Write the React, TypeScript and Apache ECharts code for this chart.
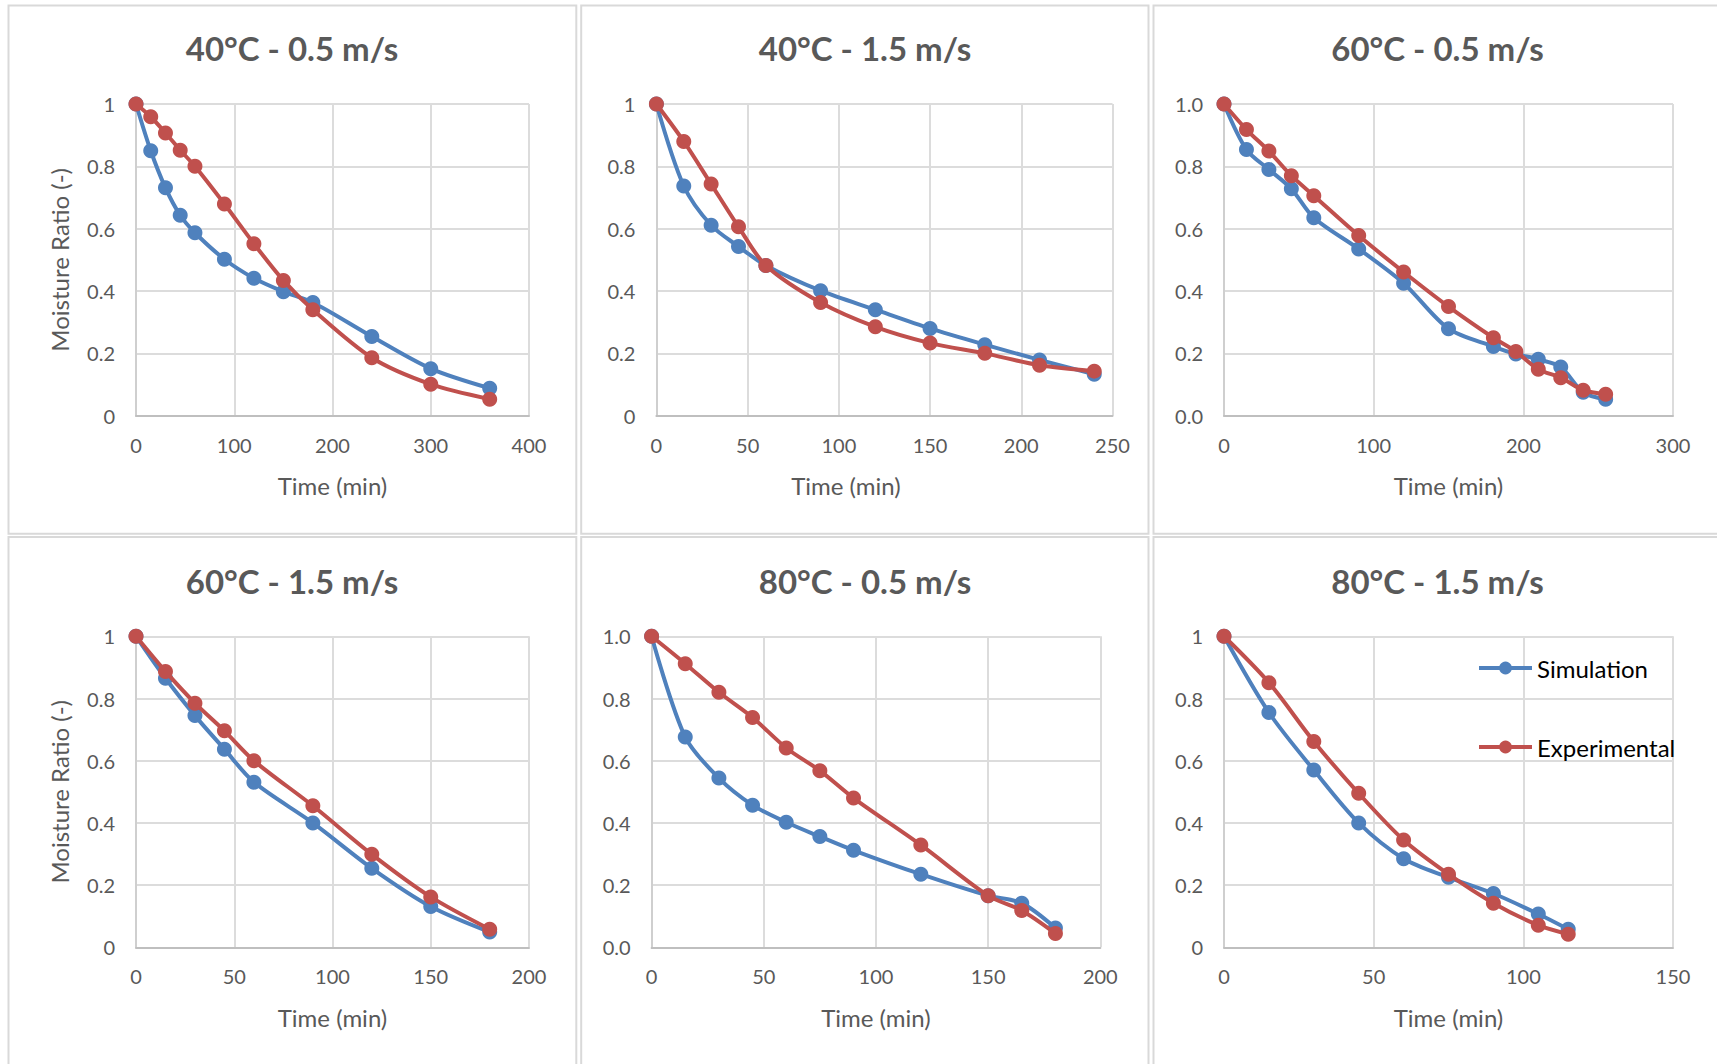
import React, { useEffect, useRef } from "react";
import * as echarts from "echarts";

// ---------- data ----------
const panelTitles = ["40°C - 0.5 m/s", "40°C - 1.5 m/s", "60°C - 0.5 m/s", "60°C - 1.5 m/s", "80°C - 0.5 m/s", "80°C - 1.5 m/s"];
const seriesNames = ["Simulation", "Experimental"];
const xAxisMax = [400, 250, 300, 200, 200, 150];
const xAxisInterval = [100, 50, 100, 50, 50, 50];
const yOneDecimal = [false, false, true, false, true, false];
const xAxisTitle = "Time (min)";
const yAxisTitle = "Moisture Ratio (-)";

// 40°C - 0.5 m/s
const time40_05 = [0, 15, 30, 45, 60, 90, 120, 150, 180, 240, 300, 360];
const sim40_05 = [1, 0.85, 0.731, 0.643, 0.587, 0.502, 0.441, 0.398, 0.363, 0.254, 0.151, 0.088];
const exp40_05 = [1, 0.959, 0.907, 0.852, 0.8, 0.679, 0.552, 0.434, 0.34, 0.186, 0.101, 0.053];
// 40°C - 1.5 m/s
const time40_15 = [0, 15, 30, 45, 60, 90, 120, 150, 180, 210, 240];
const sim40_15 = [1, 0.737, 0.611, 0.543, 0.482, 0.401, 0.34, 0.28, 0.228, 0.179, 0.133];
const exp40_15 = [1, 0.88, 0.743, 0.606, 0.482, 0.363, 0.285, 0.233, 0.2, 0.162, 0.143];
// 60°C - 0.5 m/s
const time60_05 = [0, 15, 30, 45, 60, 90, 120, 150, 180, 195, 210, 225, 240, 255];
const sim60_05 = [1, 0.854, 0.79, 0.728, 0.635, 0.535, 0.425, 0.279, 0.222, 0.198, 0.181, 0.156, 0.075, 0.053];
const exp60_05 = [1, 0.918, 0.849, 0.77, 0.706, 0.578, 0.461, 0.35, 0.25, 0.206, 0.149, 0.122, 0.082, 0.069];
// 60°C - 1.5 m/s
const time60_15 = [0, 15, 30, 45, 60, 90, 120, 150, 180];
const sim60_15 = [1, 0.865, 0.745, 0.637, 0.531, 0.4, 0.254, 0.131, 0.049];
const exp60_15 = [1, 0.887, 0.785, 0.696, 0.6, 0.455, 0.299, 0.162, 0.058];
// 80°C - 0.5 m/s
const time80_05 = [0, 15, 30, 45, 60, 75, 90, 120, 150, 165, 180];
const sim80_05 = [1, 0.676, 0.544, 0.457, 0.402, 0.356, 0.312, 0.235, 0.166, 0.142, 0.062];
const exp80_05 = [1, 0.912, 0.82, 0.739, 0.641, 0.568, 0.48, 0.329, 0.166, 0.118, 0.044];
// 80°C - 1.5 m/s
const time80_15 = [0, 15, 30, 45, 60, 75, 90, 105, 115];
const sim80_15 = [1, 0.755, 0.57, 0.4, 0.285, 0.225, 0.173, 0.107, 0.058];
const exp80_15 = [1, 0.851, 0.662, 0.495, 0.345, 0.235, 0.142, 0.071, 0.042];

const panelTimes = [time40_05, time40_15, time60_05, time60_15, time80_05, time80_15];
const panelSim = [sim40_05, sim40_15, sim60_05, sim60_15, sim80_05, sim80_15];
const panelExp = [exp40_05, exp40_15, exp60_05, exp60_15, exp80_05, exp80_15];

// ---------- layout ----------
const FONT = "Lato, 'Open Sans', sans-serif";
const TEXT_GRAY = "#595959";
const BLUE = "#4f81bd";
const RED = "#c0504d";

const grids = [
  { left: 136, top: 104, width: 393, height: 311.7 },
  { left: 656.4, top: 104, width: 456.1, height: 311.7 },
  { left: 1224, top: 104, width: 449, height: 311.7 },
  { left: 136, top: 636.3, width: 393, height: 311 },
  { left: 651.6, top: 636.3, width: 448.7, height: 311 },
  { left: 1224, top: 636.3, width: 449, height: 311 },
];
const titleCenters = [
  [292, 31], [865, 31], [1437.5, 31],
  [292, 564], [865, 564], [1437.5, 564],
];
const panelRects = [
  [8.5, 5.5, 567.8, 528.2], [581.2, 5.5, 567.3, 528.2], [1153.5, 5.5, 567.5, 528.2],
  [8.5, 536.9, 567.8, 528.2], [581.2, 536.9, 567.3, 528.2], [1153.5, 536.9, 567.5, 528.2],
];
const showYName = [true, false, false, true, false, false];
const xNameShift = [0, 77, 0, 0, 0, 0];

export default function App() {
  const ref = useRef<HTMLDivElement>(null);
  useEffect(() => {
    if (!ref.current) return;
    const chart = echarts.init(ref.current, undefined, { renderer: "svg" });

    const xAxis = grids.map((_, i) => ({
      type: "value",
      gridIndex: i,
      min: 0,
      max: xAxisMax[i],
      interval: xAxisInterval[i],
      name: xAxisTitle,
      nameLocation: "middle",
      nameGap: 58,
      nameTextStyle: {
        color: TEXT_GRAY,
        fontSize: 24,
        fontFamily: FONT,
        padding: [0, xNameShift[i], 0, 0],
      },
      axisLine: { show: true, onZero: false, lineStyle: { color: "#bfbfbf", width: 2 } },
      axisTick: { show: false },
      axisLabel: { color: TEXT_GRAY, fontSize: 20, fontFamily: FONT, margin: 19 },
      splitLine: { show: true, lineStyle: { color: "#dcdcdc", width: 2 } },
    }));

    const yAxis = grids.map((_, i) => ({
      type: "value",
      gridIndex: i,
      min: 0,
      max: 1,
      interval: 0.2,
      name: showYName[i] ? yAxisTitle : "",
      nameLocation: "middle",
      nameGap: 65,
      nameRotate: 90,
      nameTextStyle: { color: TEXT_GRAY, fontSize: 24, fontFamily: FONT },
      axisLine: { show: true, lineStyle: { color: "#cfcfcf", width: 2 } },
      axisTick: { show: false },
      axisLabel: {
        color: TEXT_GRAY,
        fontSize: 20,
        fontFamily: FONT,
        margin: 21,
        formatter: (v: number) => (yOneDecimal[i] ? v.toFixed(1) : String(Math.round(v * 10) / 10)),
      },
      splitLine: { show: true, lineStyle: { color: "#dcdcdc", width: 2 } },
    }));

    const series: any[] = [];
    grids.forEach((_, i) => {
      const t = panelTimes[i];
      [panelSim[i], panelExp[i]].forEach((vals, k) => {
        series.push({
          type: "line",
          name: seriesNames[k],
          xAxisIndex: i,
          yAxisIndex: i,
          data: t.map((x, j) => [x, vals[j]]),
          smooth: 0.3,
          symbol: "circle",
          symbolSize: 15,
          showSymbol: true,
          lineStyle: { width: 4, color: k === 0 ? BLUE : RED },
          itemStyle: { color: k === 0 ? BLUE : RED },
          z: k === 0 ? 2 : 3,
        });
      });
    });

    const option: any = {
      animation: false,
      backgroundColor: "#ffffff",
      textStyle: { fontFamily: FONT },
      title: panelTitles.map((txt, i) => ({
        text: txt,
        left: titleCenters[i][0],
        top: titleCenters[i][1],
        textAlign: "center",
        padding: 0,
        textStyle: { color: TEXT_GRAY, fontSize: 33, fontWeight: "bold", fontFamily: FONT, lineHeight: 33 },
      })),
      grid: grids.map((g) => ({ ...g, containLabel: false })),
      xAxis,
      yAxis,
      legend: {
        data: seriesNames,
        orient: "vertical",
        left: 1477,
        top: 656,
        itemWidth: 53,
        itemHeight: 16,
        itemGap: 55,
        padding: 0,
        lineStyle: { width: 4 },
        textStyle: { color: "#000000", fontSize: 24, fontFamily: FONT, lineHeight: 24, padding: [0, 0, 0, 0] },
      },
      graphic: panelRects.map((r) => ({
        type: "rect",
        shape: { x: r[0], y: r[1], width: r[2], height: r[3] },
        style: { fill: "none", stroke: "#d9d9d9", lineWidth: 2 },
        silent: true,
        z: -1,
      })),
      series,
    };
    chart.setOption(option);
    return () => chart.dispose();
  }, []);
  return (
    <div
      ref={ref}
      style={{ position: "fixed", left: 0, top: 0, width: 1717, height: 1064, background: "#fff" }}
    />
  );
}
